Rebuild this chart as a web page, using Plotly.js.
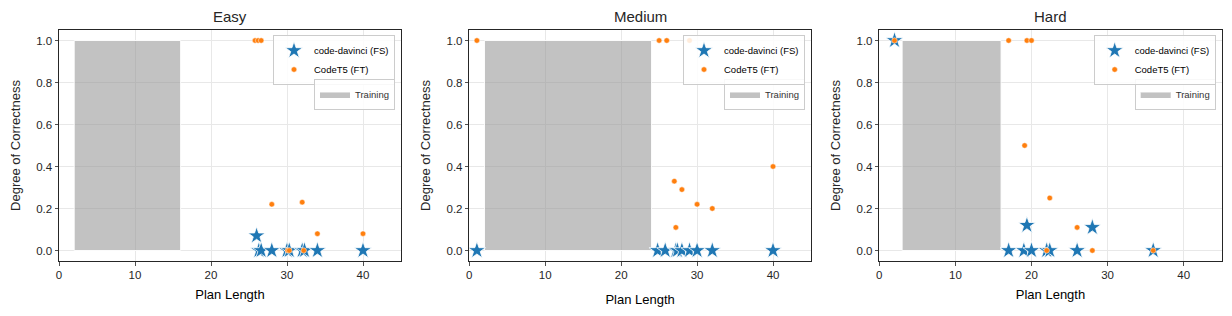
<!DOCTYPE html>
<html>
<head>
<meta charset="utf-8">
<script src="https://cdn.plot.ly/plotly-3.0.1.min.js"></script>
<style>html,body{margin:0;padding:0;background:#fff;}#chart{width:1232px;height:316px;}</style>
</head>
<body>
<div id="chart"></div>
<script>
// ---- Data ----
const panelTitles = ["Easy", "Medium", "Hard"];
const seriesNames = ["code-davinci (FS)", "CodeT5 (FT)"];
const trainingLabel = "Training";

// Training plan-length ranges [start, end]
const easyTraining = [2, 16];
const mediumTraining = [2, 24];
const hardTraining = [3, 16];

// Easy
const easyDavinciX = [26, 26.3, 26.6, 28, 30, 30.3, 32, 32.3, 34, 40];
const easyDavinciY = [0.07, 0, 0, 0, 0, 0, 0, 0, 0, 0];
const easyT5X = [25.8, 26.2, 26.6, 28, 32, 34, 40, 30.1, 30.3, 32.2];
const easyT5Y = [1.0, 1.0, 1.0, 0.22, 0.23, 0.08, 0.08, 0, 0, 0];

// Medium
const mediumDavinciX = [1, 24.8, 25.8, 27.2, 27.4, 28, 29, 30, 32, 40];
const mediumDavinciY = [0, 0, 0, 0, 0, 0, 0, 0, 0, 0];
const mediumT5X = [1, 25, 26, 29, 27, 28, 30, 32, 27.2, 40];
const mediumT5Y = [1.0, 1.0, 1.0, 1.0, 0.33, 0.29, 0.22, 0.2, 0.11, 0.4];

// Hard
const hardDavinciX = [2, 17, 19, 19.4, 20, 22, 22.4, 26, 28, 36];
const hardDavinciY = [1.0, 0, 0, 0.12, 0, 0, 0, 0, 0.11, 0];
const hardT5X = [2, 17, 19.4, 20, 19.1, 22.4, 26, 22, 28, 36];
const hardT5Y = [1.0, 1.0, 1.0, 1.0, 0.5, 0.25, 0.11, 0, 0, 0];

const xTicks = [0, 10, 20, 30, 40];
const yTicks = [0, 0.2, 0.4, 0.6, 0.8, 1.0];

// ---- Styling ----
const W = 1232, H = 316;
const blue = "#1f77b4", orange = "#ff7f0e", gray = "rgba(150,150,150,0.58)";
const font = "Liberation Sans, Arial, Helvetica, sans-serif";
const txt = "#262626";

const panels = [
  {training: easyTraining, dx: easyDavinciX, dy: easyDavinciY, tx: easyT5X, ty: easyT5Y, px: [59, 401], xstand: 9},
  {training: mediumTraining, dx: mediumDavinciX, dy: mediumDavinciY, tx: mediumT5X, ty: mediumT5Y, px: [469.3, 811], xstand: 14},
  {training: hardTraining, dx: hardDavinciX, dy: hardDavinciY, tx: hardT5X, ty: hardT5Y, px: [879.3, 1221.7], xstand: 9}
];

const traces = [];
const layout = {
  width: W, height: H,
  margin: {l: 0, r: 0, t: 0, b: 0},
  paper_bgcolor: "#fff", plot_bgcolor: "#fff",
  font: {family: font, color: txt, size: 11},
  showlegend: true,
  annotations: []
};

panels.forEach((p, i) => {
  const n = i === 0 ? "" : String(i + 1);
  const xa = "x" + n, ya = "y" + n;
  const legA = "legend" + (i === 0 ? "" : String(2 * i + 1));
  const legB = "legend" + String(2 * i + 2);
  const [t0, t1] = p.training;

  traces.push({
    type: "scatter", mode: "lines",
    x: [t0, t1, t1, t0, t0], y: [0, 0, 1, 1, 0],
    fill: "toself", fillcolor: gray,
    line: {color: "rgba(255,255,255,0.9)", width: 1},
    name: trainingLabel, xaxis: xa, yaxis: ya, legend: legB, hoverinfo: "skip"
  });
  traces.push({
    type: "scatter", mode: "markers", x: p.dx, y: p.dy,
    marker: {symbol: "star", size: 13, color: blue, line: {color: "#fff", width: 0.8}},
    name: seriesNames[0], xaxis: xa, yaxis: ya, legend: legA
  });
  traces.push({
    type: "scatter", mode: "markers", x: p.tx, y: p.ty,
    marker: {symbol: "circle", size: 5.5, color: orange, line: {color: "#fff", width: 0.5}},
    name: seriesNames[1], xaxis: xa, yaxis: ya, legend: legA
  });

  const axBase = {
    showline: true, mirror: true, linecolor: "#262626", linewidth: 1,
    ticks: "outside", ticklen: 3.5, tickwidth: 0.8, tickcolor: "#262626",
    showgrid: true, gridcolor: "#e8e8e8", gridwidth: 1, zeroline: false,
    tickfont: {family: font, size: 11.5, color: txt}
  };
  layout["xaxis" + n] = Object.assign({}, axBase, {
    domain: [p.px[0] / W, p.px[1] / W], range: [0, 45], anchor: ya,
    tickvals: xTicks, ticktext: xTicks.map(String),
    title: {text: "Plan Length", font: {family: font, size: 13, color: "#000"}, standoff: p.xstand}
  });
  layout["yaxis" + n] = Object.assign({}, axBase, {
    domain: [1 - 261 / H, 1 - 30 / H], range: [-0.05, 1.05], anchor: xa,
    tickvals: yTicks, ticktext: yTicks.map(v => v.toFixed(1)),
    title: {text: "Degree of Correctness", font: {family: font, size: 13, color: txt}, standoff: 12}
  });

  const right = (p.px[1] - 6) / W;
  layout[legA] = {
    x: right, xanchor: "right", y: 1 - 35 / H, yanchor: "top",
    bgcolor: "rgba(255,255,255,0.85)", bordercolor: "#cccccc", borderwidth: 1,
    font: {family: font, size: 9.5, color: "#000"}, itemwidth: 30, tracegroupgap: 0
  };
  layout[legB] = {
    x: right, xanchor: "right", y: 1 - 78.5 / H, yanchor: "top",
    bgcolor: "rgba(255,255,255,0.85)", bordercolor: "#cccccc", borderwidth: 1,
    font: {family: font, size: 9.5, color: "#333"}, itemwidth: 30
  };

  layout.annotations.push({
    text: panelTitles[i], xref: "paper", yref: "paper",
    x: (p.px[0] + p.px[1]) / 2 / W, y: 1 - 17 / H, xanchor: "center", yanchor: "middle",
    showarrow: false, font: {family: font, size: 15, color: txt}
  });
});

Plotly.newPlot("chart", traces, layout, {staticPlot: true, displayModeBar: false});
</script>
</body>
</html>
